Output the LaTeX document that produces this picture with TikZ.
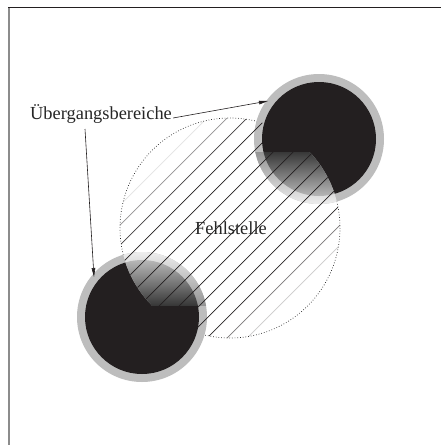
\documentclass[tikz,border=0pt]{standalone}
\usepackage{fontspec}
\setmainfont{Liberation Serif}
\usetikzlibrary{arrows.meta,calc}
\definecolor{ink}{RGB}{35,31,32}
\begin{document}
\begin{tikzpicture}[x=1pt,y=-1pt,
  ring/.style={fill=black!26},
  core/.style={fill=ink},
  hatchline/.style={line width=0.7pt, draw=ink},
  lbl/.style={font=\fontsize{18.4}{21}\selectfont, text=black!85, inner sep=0pt},
  pointer/.style={draw=ink, line width=0.6pt, -{Triangle[length=9pt,width=3.6pt]}}]
\useasboundingbox (0,0) rectangle (441,445);
\fill[white] (0,0) rectangle (441,445);
% frame
\draw[black!45, line width=1.3pt] (9,445) -- (9,7);
\draw[ink, line width=1pt] (8.4,7) -- (441,7);
% geometry
\coordinate (F) at (230,228);
\coordinate (L) at (142,317);
\coordinate (U) at (319,139);
% defect region outline
\draw[black!85, dotted, line width=0.7pt] (F) circle (110);
% disks
\fill[ring] (L) circle (65);
\fill[core] (L) circle (57);
\fill[ring] (U) circle (65);
\fill[core] (U) circle (57);
% lower transition fade
\begin{scope}
  \clip (F) circle (110);
  \clip (60,240) rectangle (230,305);
  \begin{scope}
    \clip (L) circle (65);
    \shade[top color=black!6, bottom color=black!42] (70,251) rectangle (215,305);
  \end{scope}
  \begin{scope}
    \clip (L) circle (57);
    \shade[top color=black!18, bottom color=black!78] (70,251) rectangle (215,305);
  \end{scope}
\end{scope}
% upper transition fade
\begin{scope}
  \clip (F) circle (110);
  \clip (240,152) rectangle (400,215);
  \begin{scope}
    \clip (U) circle (65);
    \shade[top color=black!42, bottom color=black!6] (250,152) rectangle (390,205);
  \end{scope}
  \begin{scope}
    \clip (U) circle (57);
    \shade[top color=black!78, bottom color=black!18] (250,152) rectangle (390,205);
  \end{scope}
\end{scope}
% hatching
\begin{scope}
  \clip (F) circle (110);
  \foreach \u in {285,305,...,625} {
    \pgfmathsetmacro\op{max(0,min(1,(140-abs(\u-458))/55))}
    \draw[hatchline, draw opacity=\op] (\u-100,100) -- (\u-380,380);
  }
\end{scope}
% labels
\node[lbl, anchor=base west] (ub) at (30,119) {Übergangsbereiche};
\node[lbl, anchor=base] (fs) at (231,234) {Fehlstelle};
% pointers
\coordinate (tA) at (268,101);
\coordinate (tB) at (94,277);
\draw[pointer] ($(ub.base east)+(1,-1)$) -- (tA);
\draw[pointer] (85,129) coordinate (sB) -- (tB);
\end{tikzpicture}
\end{document}
